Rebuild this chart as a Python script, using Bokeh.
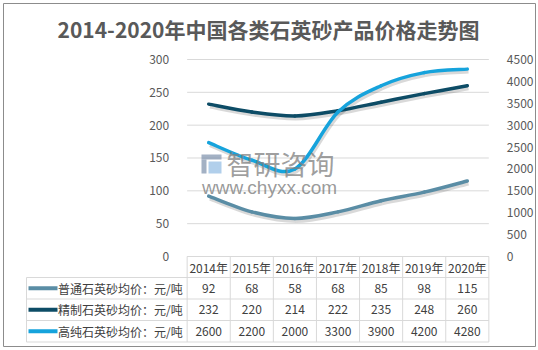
from bokeh.plotting import figure
from bokeh.models import Range1d, LinearAxis, FixedTicker, ColumnDataSource
from bokeh.core.properties import value
from bokeh.embed import file_html
from bokeh.resources import INLINE

# ---------------- data ----------------
TITLE = "2014-2020年中国各类石英砂产品价格走势图"
YEARS = ["2014年", "2015年", "2016年", "2017年", "2018年", "2019年", "2020年"]
SERIES_NAMES = ["普通石英砂均价：元/吨", "精制石英砂均价：元/吨", "高纯石英砂均价：元/吨"]
ORDINARY = [92, 68, 58, 68, 85, 98, 115]          # left axis
REFINED = [232, 220, 214, 222, 235, 248, 260]     # left axis
HIGH_PURITY = [2600, 2200, 2000, 3300, 3900, 4200, 4280]  # right axis
LEFT_TICKS = [0, 50, 100, 150, 200, 250, 300]
RIGHT_TICKS = [0, 500, 1000, 1500, 2000, 2500, 3000, 3500, 4000, 4500]
WATERMARK_CN = "智研咨询"
WATERMARK_URL = "www.chyxx.com"

COLORS = ["#5A8DA5", "#0D4C66", "#16A3DC"]
TEXT_COLOR = "#404040"
AXIS_COLOR = "#595959"
GRID_COLOR = "#D9D9D9"
FONT = "Noto Sans CJK SC"

# ---------------- layout constants (pixels) ----------------
W, H = 538, 350
FRAME_L, FRAME_R, FRAME_T, FRAME_B = 3, 535, 3, 346
COL0 = 208.2          # centre of first year column
COLW = 43.1           # column width
ZERO_PX = 256.0       # pixel row of value 0
PX_PER_UNIT = 0.6567  # pixels per left-axis unit
RIGHT_FACTOR = 15.0   # right axis units per left axis unit


def vx(px):
    return (px - COL0) / COLW


def vy(px):
    return (ZERO_PX - px) / PX_PER_UNIT


x_start, x_end = vx(FRAME_L), vx(FRAME_R)
y_start, y_end = vy(FRAME_B), vy(FRAME_T)

p = figure(width=W, height=H, output_backend="svg", toolbar_location=None,
           x_range=Range1d(x_start, x_end), y_range=Range1d(y_start, y_end),
           x_axis_location=None, y_axis_location=None,
           min_border_left=FRAME_L, min_border_right=W - FRAME_R,
           min_border_top=FRAME_T, min_border_bottom=H - FRAME_B)
p.extra_y_ranges = {"right": Range1d(y_start * RIGHT_FACTOR, y_end * RIGHT_FACTOR)}
p.outline_line_color = "#8C8C8C"
p.outline_line_width = 1
p.background_fill_color = "white"
p.border_fill_color = "white"
p.xgrid.grid_line_color = None
p.ygrid.grid_line_color = None

n = len(YEARS)
xs = list(range(n))
left_edge = -0.5
right_edge = n - 0.5

# ---------------- gridlines ----------------
p.segment(x0=[left_edge] * len(LEFT_TICKS), x1=[right_edge] * len(LEFT_TICKS),
          y0=LEFT_TICKS, y1=LEFT_TICKS, line_color=GRID_COLOR, line_width=1)

# ---------------- axes ----------------
axL = LinearAxis(ticker=FixedTicker(ticks=LEFT_TICKS), fixed_location=left_edge,
                 axis_line_color=None, major_tick_line_color=None, minor_tick_line_color=None,
                 major_label_standoff=12, major_label_text_font=FONT,
                 major_label_text_font_size="12px", major_label_text_color=AXIS_COLOR)
p.add_layout(axL, "left")
axR = LinearAxis(y_range_name="right", ticker=FixedTicker(ticks=RIGHT_TICKS), fixed_location=right_edge,
                 axis_line_color=None, major_tick_line_color=None, minor_tick_line_color=None,
                 major_label_standoff=12, major_label_text_font=FONT,
                 major_label_text_font_size="12px", major_label_text_color=AXIS_COLOR)
p.add_layout(axR, "right")


# ---------------- smooth lines (bezier through the data points) ----------------
def bez(xv, yv):
    m = len(xv)
    d = dict(x0=[], y0=[], x1=[], y1=[], cx0=[], cy0=[], cx1=[], cy1=[])
    for i in range(m - 1):
        a = i - 1 if i > 0 else i
        b = i + 2 if i + 2 < m else i + 1
        d["x0"].append(xv[i]); d["y0"].append(yv[i])
        d["x1"].append(xv[i + 1]); d["y1"].append(yv[i + 1])
        d["cx0"].append(xv[i] + (xv[i + 1] - xv[a]) / 6.0)
        d["cy0"].append(yv[i] + (yv[i + 1] - yv[a]) / 6.0)
        d["cx1"].append(xv[i + 1] - (xv[b] - xv[i]) / 6.0)
        d["cy1"].append(yv[i + 1] - (yv[b] - yv[i]) / 6.0)
    return d


sdx = 1.2 / COLW
sdy = 2.5 / PX_PER_UNIT
series = [(ORDINARY, "default", 1.0), (REFINED, "default", 1.0), (HIGH_PURITY, "right", RIGHT_FACTOR)]
for (vals, rng, fac), col in zip(series, COLORS):
    xsh = [x + sdx for x in xs]
    ysh = [v - sdy * fac for v in vals]
    p.bezier(source=ColumnDataSource(bez(xsh, ysh)), x0="x0", y0="y0", x1="x1", y1="y1",
             cx0="cx0", cy0="cy0", cx1="cx1", cy1="cy1",
             line_color="#000000", line_alpha=0.15, line_width=4, y_range_name=rng)
for (vals, rng, fac), col in zip(series, COLORS):
    p.bezier(source=ColumnDataSource(bez(xs, vals)), x0="x0", y0="y0", x1="x1", y1="y1",
             cx0="cx0", cy0="cy0", cx1="cx1", cy1="cy1",
             line_color=col, line_width=3.5, y_range_name=rng, line_cap="round")

# ---------------- watermark ----------------
p.quad(left=[vx(201)], right=[vx(221)], top=[vy(154)], bottom=[vy(159)], fill_color="#8497B0",
       line_color=None, fill_alpha=0.75)
p.quad(left=[vx(201)], right=[vx(206)], top=[vy(159)], bottom=[vy(173)], fill_color="#8497B0",
       line_color=None, fill_alpha=0.75)
p.quad(left=[vx(208)], right=[vx(221)], top=[vy(161)], bottom=[vy(173)], fill_color="#9DC3E6",
       line_color=None, fill_alpha=0.8)
p.text(x=[vx(226)], y=[vy(163)], text=[WATERMARK_CN], text_font=value(FONT),
       text_font_size="27px", text_color="#7F7F7F", text_alpha=0.75,
       text_baseline="middle", text_align="left")
p.text(x=[vx(269)], y=[vy(187)], text=[WATERMARK_URL], text_font=value("Liberation Sans"),
       text_font_size="19px", text_color="#7F7F7F", text_alpha=0.8,
       text_baseline="middle", text_align="center")

# ---------------- title ----------------
p.text(x=[vx(268)], y=[vy(28.5)], text=[TITLE], text_font=value(FONT), text_font_style="bold",
       text_font_size="21px", text_color=AXIS_COLOR, text_align="center", text_baseline="middle")

# ---------------- data table ----------------
row_px = [256.0, 277.0, 298.5, 320.0, 341.5]
rows_v = [vy(r) for r in row_px]
tbl_left = vx(26)
# horizontal lines
p.segment(x0=[left_edge], x1=[right_edge], y0=[rows_v[0]], y1=[rows_v[0]], line_color=GRID_COLOR)
p.segment(x0=[tbl_left] * 4, x1=[right_edge] * 4, y0=rows_v[1:], y1=rows_v[1:], line_color=GRID_COLOR)
# vertical lines
bounds = [left_edge + k for k in range(n + 1)]
p.segment(x0=bounds, x1=bounds, y0=[rows_v[0]] * len(bounds), y1=[rows_v[-1]] * len(bounds),
          line_color=GRID_COLOR)
p.segment(x0=[tbl_left], x1=[tbl_left], y0=[rows_v[1]], y1=[rows_v[-1]], line_color=GRID_COLOR)

centers = [(rows_v[k] + rows_v[k + 1]) / 2 for k in range(4)]
p.text(x=xs, y=[centers[0]] * n, text=YEARS, text_font=value(FONT), text_font_size="12px",
       text_color=TEXT_COLOR, text_align="center", text_baseline="middle")
for k, (vals, col, name) in enumerate(zip([ORDINARY, REFINED, HIGH_PURITY], COLORS, SERIES_NAMES)):
    yc = centers[k + 1]
    p.text(x=xs, y=[yc] * n, text=[str(v) for v in vals], text_font=value(FONT),
           text_font_size="12px", text_color=TEXT_COLOR, text_align="center", text_baseline="middle")
    p.segment(x0=[vx(28)], x1=[vx(57)], y0=[yc], y1=[yc], line_color=col, line_width=4)
    p.text(x=[vx(57.5)], y=[yc], text=[name], text_font=value(FONT), text_font_size="12px",
           text_color=TEXT_COLOR, text_align="left", text_baseline="middle")

open("out.html", "w").write(file_html(p, INLINE))
